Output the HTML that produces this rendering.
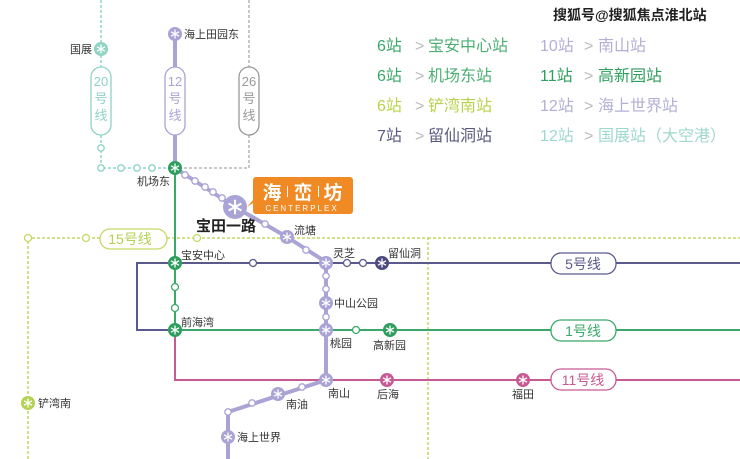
<!DOCTYPE html>
<html><head><meta charset="utf-8"><style>
html,body{margin:0;padding:0;background:#fff}
svg{display:block}
text{font-family:"Liberation Sans","Noto Sans CJK SC",sans-serif}
</style></head><body>
<svg width="740" height="459" viewBox="0 0 740 459" xmlns="http://www.w3.org/2000/svg">
<defs>
<g id="ic"><path d="M0,-4.5V4.5M-4,-2.2L4,2.2M-4,2.2L4,-2.2" stroke="#fff" stroke-width="1.3" fill="none"/></g>
</defs>
<path d="M101,0V168H175" stroke="#8fd3c5" stroke-width="1.5" stroke-dasharray="3,2" fill="none"/>
<path d="M249,0V168H175" stroke="#aaa" stroke-width="1.3" stroke-dasharray="3,2" fill="none"/>
<path d="M28,459V238H428V459" stroke="#c2da63" stroke-width="1.5" stroke-dasharray="3,2" fill="none"/>
<path d="M428,238H740" stroke="#c2da63" stroke-width="1.5" stroke-dasharray="3,2" fill="none"/>
<path d="M740,263H137V330H175" stroke="#5b5a8c" stroke-width="2" fill="none"/>
<path d="M175,330V380H740" stroke="#c65a93" stroke-width="2" fill="none"/>
<path d="M175,168V330H740" stroke="#3aa86a" stroke-width="2" fill="none"/>
<path d="M175,33V168L235,207L287,237L326,262V380L228,412V459" stroke="#aaa3d6" stroke-width="4" fill="none" stroke-linejoin="round"/>

<g font-size="15" text-anchor="middle">
<rect x="91" y="67" width="20" height="68" rx="10" fill="#fff" stroke="#8fd3c5" stroke-width="1.3"/>
<text x="101" y="86" fill="#8fd3c5" font-size="13">20</text><text x="101" y="103" fill="#8fd3c5" font-size="13">号</text><text x="101" y="120" fill="#8fd3c5" font-size="13">线</text>
<rect x="165" y="67" width="20" height="68" rx="10" fill="#fff" stroke="#aaa3d6" stroke-width="1.3"/>
<text x="175" y="86" fill="#aaa3d6" font-size="13">12</text><text x="175" y="103" fill="#aaa3d6" font-size="13">号</text><text x="175" y="120" fill="#aaa3d6" font-size="13">线</text>
<rect x="239" y="67" width="20" height="68" rx="10" fill="#fff" stroke="#999" stroke-width="1.3"/>
<text x="249" y="86" fill="#999" font-size="13">26</text><text x="249" y="103" fill="#999" font-size="13">号</text><text x="249" y="120" fill="#999" font-size="13">线</text>
<rect x="100" y="229" width="67" height="20" rx="10" fill="#fff" stroke="#c2da63" stroke-width="1.3"/>
<text x="130" y="244" fill="#b5d153" font-size="14">15号线</text>
<rect x="551" y="253" width="65" height="21" rx="10" fill="#fff" stroke="#5b5a8c" stroke-width="1.3"/>
<text x="583" y="269" fill="#5b5a8c" font-size="14">5号线</text>
<rect x="551" y="320" width="65" height="21" rx="10" fill="#fff" stroke="#3aa86a" stroke-width="1.3"/>
<text x="583" y="336" fill="#3aa86a" font-size="14">1号线</text>
<rect x="551" y="369" width="65" height="21" rx="10" fill="#fff" stroke="#c65a93" stroke-width="1.3"/>
<text x="583" y="385" fill="#c65a93" font-size="14">11号线</text>
</g>

<g fill="#fff" stroke-width="1.3">
<g stroke="#8fd3c5"><circle cx="101" cy="148" r="3.2"/><circle cx="101" cy="168" r="3.2"/><circle cx="121" cy="168" r="3.2"/><circle cx="137" cy="168" r="3.2"/><circle cx="152" cy="168" r="3.2"/></g>
<g stroke="#aaa3d6"><circle cx="185" cy="175" r="3.2"/><circle cx="195" cy="181" r="3.2"/><circle cx="205" cy="187" r="3.2"/><circle cx="213" cy="192" r="3.2"/><circle cx="222" cy="198" r="3.2"/><circle cx="265" cy="224" r="3.2"/><circle cx="306" cy="250" r="3.2"/><circle cx="326" cy="276" r="3.2"/><circle cx="326" cy="289" r="3.2"/><circle cx="326" cy="317" r="3.2"/><circle cx="302" cy="387" r="3.2"/><circle cx="252" cy="403" r="3.2"/><circle cx="228" cy="412" r="3.2"/></g>
<g stroke="#c2da63"><circle cx="28" cy="238" r="3.5"/><circle cx="86" cy="238" r="3.5"/><circle cx="197" cy="238" r="3.5"/></g>
<g stroke="#5b5a8c"><circle cx="253" cy="263" r="3.5"/><circle cx="347" cy="263" r="3.5"/><circle cx="363" cy="263" r="3.5"/></g>
<g stroke="#3aa86a"><circle cx="175" cy="287" r="3.5"/><circle cx="175" cy="308" r="3.5"/><circle cx="356" cy="330" r="3.5"/></g>
</g>

<g>
<circle cx="101" cy="49" r="7" fill="#8fd3c5"/><use href="#ic" x="101" y="49"/>
<circle cx="175" cy="34" r="7" fill="#aaa3d6"/><use href="#ic" x="175" y="34"/>
<circle cx="175" cy="168" r="7" fill="#2e9e5e"/><use href="#ic" x="175" y="168"/>
<circle cx="235" cy="207" r="12" fill="#aaa3d6"/><use href="#ic" x="235" y="207" transform="translate(235,207) scale(1.6) translate(-235,-207)"/>
<circle cx="287" cy="237" r="7" fill="#aaa3d6"/><use href="#ic" x="287" y="237"/>
<circle cx="326" cy="263" r="7" fill="#aaa3d6"/><use href="#ic" x="326" y="263"/>
<circle cx="382" cy="263" r="7" fill="#4c4a80"/><use href="#ic" x="382" y="263"/>
<circle cx="326" cy="303" r="7" fill="#aaa3d6"/><use href="#ic" x="326" y="303"/>
<circle cx="326" cy="330" r="7" fill="#aaa3d6"/><use href="#ic" x="326" y="330"/>
<circle cx="390" cy="330" r="7" fill="#2e9e5e"/><use href="#ic" x="390" y="330"/>
<circle cx="326" cy="380" r="7" fill="#aaa3d6"/><use href="#ic" x="326" y="380"/>
<circle cx="387" cy="380" r="7" fill="#c65a93"/><use href="#ic" x="387" y="380"/>
<circle cx="523" cy="380" r="7" fill="#c65a93"/><use href="#ic" x="523" y="380"/>
<circle cx="278" cy="394" r="7" fill="#aaa3d6"/><use href="#ic" x="278" y="394"/>
<circle cx="228" cy="437" r="7" fill="#aaa3d6"/><use href="#ic" x="228" y="437"/>
<circle cx="175" cy="263" r="7" fill="#2e9e5e"/><use href="#ic" x="175" y="263"/>
<circle cx="175" cy="330" r="7" fill="#2e9e5e"/><use href="#ic" x="175" y="330"/>
<circle cx="28" cy="403" r="7" fill="#b5d153"/><use href="#ic" x="28" y="403"/>
</g>

<path d="M256,177H350a3,3 0 0 1 3,3V211a3,3 0 0 1 -3,3H256a3,3 0 0 1 -3,-3V203L247,207L253,200V180a3,3 0 0 1 3,-3Z" fill="#f08a24"/>
<g fill="#fff" text-anchor="middle">
<text x="272" y="199" font-size="19" font-weight="bold" font-family="'Noto Serif CJK SC',serif">海</text>
<text x="303" y="199" font-size="19" font-weight="bold" font-family="'Noto Serif CJK SC',serif">峦</text>
<text x="333" y="199" font-size="19" font-weight="bold" font-family="'Noto Serif CJK SC',serif">坊</text>
<text x="302" y="211" font-size="8" letter-spacing="2" font-family="Liberation Serif,serif">CENTERPLEX</text>
</g>
<rect x="287" y="186" width="1" height="11" fill="#fff"/><rect x="318" y="186" width="1" height="11" fill="#fff"/>

<g font-size="11" fill="#333">
<text x="70" y="53">国展</text>
<text x="184" y="38">海上田园东</text>
<text x="137" y="185">机场东</text>
<text x="196" y="231" font-size="15" font-weight="bold" fill="#222">宝田一路</text>
<text x="294" y="234">流塘</text>
<text x="181" y="259">宝安中心</text>
<text x="333" y="257">灵芝</text>
<text x="388" y="257">留仙洞</text>
<text x="334" y="307">中山公园</text>
<text x="181" y="326">前海湾</text>
<text x="330" y="347">桃园</text>
<text x="373" y="349">高新园</text>
<text x="328" y="397">南山</text>
<text x="377" y="398">后海</text>
<text x="512" y="398">福田</text>
<text x="286" y="408">南油</text>
<text x="237" y="441">海上世界</text>
<text x="38" y="407">铲湾南</text>
</g>

<g font-size="16">
<text x="377" y="51" fill="#3aa86a">6站</text><text x="415" y="51" fill="#bbb">&gt;</text><text x="428" y="51" fill="#4caf72">宝安中心站</text>
<text x="377" y="81" fill="#3aa86a">6站</text><text x="415" y="81" fill="#bbb">&gt;</text><text x="428" y="81" fill="#4caf72">机场东站</text>
<text x="377" y="111" fill="#b8d34a">6站</text><text x="415" y="111" fill="#bbb">&gt;</text><text x="428" y="111" fill="#b8d34a">铲湾南站</text>
<text x="377" y="141" fill="#5b5a80">7站</text><text x="415" y="141" fill="#bbb">&gt;</text><text x="428" y="141" fill="#5b5a80">留仙洞站</text>
<text x="540" y="51" fill="#b3afd6">10站</text><text x="584" y="51" fill="#bbb">&gt;</text><text x="598" y="51" fill="#b3afd6">南山站</text>
<text x="540" y="81" fill="#2e9e5e">11站</text><text x="584" y="81" fill="#bbb">&gt;</text><text x="598" y="81" fill="#2e9e5e">高新园站</text>
<text x="540" y="111" fill="#b3afd6">12站</text><text x="584" y="111" fill="#bbb">&gt;</text><text x="598" y="111" fill="#b3afd6">海上世界站</text>
<text x="540" y="141" fill="#9fd8cc">12站</text><text x="584" y="141" fill="#bbb">&gt;</text><text x="598" y="141" fill="#9fd8cc">国展站（大空港）</text>
</g>
<text x="553" y="20" font-size="14" font-weight="bold" fill="#222" stroke="#fff" stroke-width="0.6" paint-order="stroke">搜狐号@搜狐焦点淮北站</text>
</svg>
</body></html>
